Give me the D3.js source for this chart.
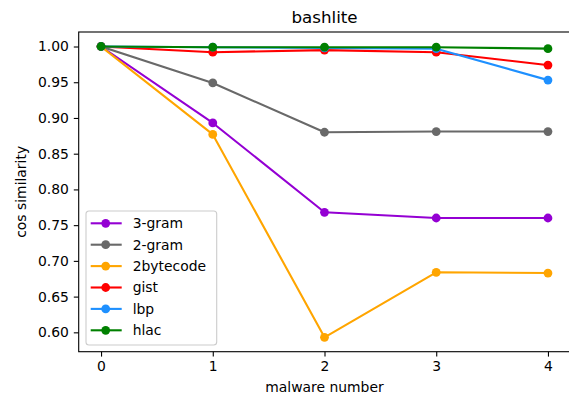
<!DOCTYPE html>
<html>
<head>
<meta charset="utf-8">
<script src="https://cdn.jsdelivr.net/npm/d3@7"></script>
<style>
  body { margin: 0; background: #fff; }
  svg text { font-family: "DejaVu Sans", sans-serif; fill: #000; }
</style>
</head>
<body>
<div id="chart"></div>
<script>
// data
const malwareNumbers = [0, 1, 2, 3, 4];
const seriesNames = ["3-gram", "2-gram", "2bytecode", "gist", "lbp", "hlac"];
const seriesColors = ["#9400d3", "#696969", "#ffa500", "#ff0000", "#1e90ff", "#008000"];
const gram3 = [1.0, 0.893, 0.768, 0.760, 0.760];
const gram2 = [1.0, 0.949, 0.880, 0.881, 0.881];
const bytecode2 = [1.0, 0.877, 0.593, 0.684, 0.683];
const gist = [1.0, 0.992, 0.995, 0.992, 0.974];
const lbp = [1.0, 0.999, 0.998, 0.997, 0.953];
const hlac = [1.0, 0.999, 0.999, 0.999, 0.997];
const yTicks = [0.60, 0.65, 0.70, 0.75, 0.80, 0.85, 0.90, 0.95, 1.00];
const allSeries = [gram3, gram2, bytecode2, gist, lbp, hlac];

const W = 569, H = 396;
var margin = {top: 32, left: 78.7, right: 570.3, bottom: 351.7};

const svg = d3.select("#chart").append("svg")
  .attr("width", W).attr("height", H);

var x = d3.scaleLinear().domain([-0.2, 4.2]).range([margin.left, margin.right]);
var y = d3.scaleLinear().domain([0.5729, 1.0203]).range([margin.bottom, margin.top]);

// clip for plotting area
svg.append("defs").append("clipPath").attr("id", "clip")
  .append("rect")
  .attr("x", margin.left).attr("y", margin.top)
  .attr("width", margin.right - margin.left)
  .attr("height", margin.bottom - margin.top);

const plot = svg.append("g").attr("clip-path", "url(#clip)");

const line = d3.line()
  .x((d, i) => x(malwareNumbers[i]))
  .y(d => y(d));

allSeries.forEach((vals, k) => {
  plot.append("path")
    .datum(vals)
    .attr("d", line)
    .attr("fill", "none")
    .attr("stroke", seriesColors[k])
    .attr("stroke-width", 2.1)
    .attr("stroke-linejoin", "round")
    .attr("stroke-linecap", "square");
  plot.selectAll(null)
    .data(vals)
    .enter().append("circle")
    .attr("cx", (d, i) => x(malwareNumbers[i]))
    .attr("cy", d => y(d))
    .attr("r", 4.4)
    .attr("fill", seriesColors[k]);
});

// axes
const xAxis = d3.axisBottom(x).tickValues(malwareNumbers).tickFormat(d3.format("d"))
  .tickSize(4.9).tickPadding(4.9).tickSizeOuter(0);
const xg = svg.append("g")
  .attr("transform", "translate(0," + margin.bottom + ")")
  .call(xAxis);

const yAxis = d3.axisLeft(y).tickValues(yTicks).tickFormat(d3.format(".2f"))
  .tickSize(4.9).tickPadding(4.9).tickSizeOuter(0);
const yg = svg.append("g")
  .attr("transform", "translate(" + margin.left + ",0)")
  .call(yAxis);

[xg, yg].forEach(g => {
  g.selectAll("text").attr("font-size", "13.9px").attr("font-family", "DejaVu Sans");
  g.selectAll("line").attr("stroke", "#000").attr("stroke-width", 1.1);
  g.select("path.domain").remove();
});

// spines
svg.append("rect")
  .attr("x", margin.left).attr("y", margin.top)
  .attr("width", margin.right - margin.left)
  .attr("height", margin.bottom - margin.top)
  .attr("fill", "none")
  .attr("stroke", "#000")
  .attr("stroke-width", 1.1);

// title & labels
svg.append("text")
  .attr("x", (margin.left + margin.right) / 2).attr("y", 23)
  .attr("text-anchor", "middle")
  .attr("font-size", "16.7px")
  .text("bashlite");

svg.append("text")
  .attr("x", (margin.left + margin.right) / 2).attr("y", 392)
  .attr("text-anchor", "middle")
  .attr("font-size", "13.9px")
  .text("malware number");

svg.append("text")
  .attr("transform", "translate(26," + (margin.top + margin.bottom) / 2 + ") rotate(-90)")
  .attr("text-anchor", "middle")
  .attr("font-size", "13.9px")
  .text("cos similarity");

// legend
const lg = svg.append("g").attr("transform", "translate(86,211)");
lg.append("rect")
  .attr("width", 130.7).attr("height", 134)
  .attr("rx", 3).attr("ry", 3)
  .attr("fill", "#fff").attr("fill-opacity", 0.8)
  .attr("stroke", "#cccccc").attr("stroke-width", 1.1);

const items = lg.selectAll("g.item")
  .data(seriesNames)
  .enter().append("g")
  .attr("class", "item")
  .attr("transform", (d, i) => "translate(0," + (12.3 + i * 21.4) + ")");
items.append("line")
  .attr("x1", 4.7).attr("x2", 35.7)
  .attr("stroke", (d, i) => seriesColors[i])
  .attr("stroke-width", 2.1);
items.append("circle")
  .attr("cx", 19.7).attr("r", 4.4)
  .attr("fill", (d, i) => seriesColors[i]);
items.append("text")
  .attr("x", 46.7).attr("dy", "0.35em")
  .attr("font-size", "13.9px")
  .text(d => d);
</script>
</body>
</html>
